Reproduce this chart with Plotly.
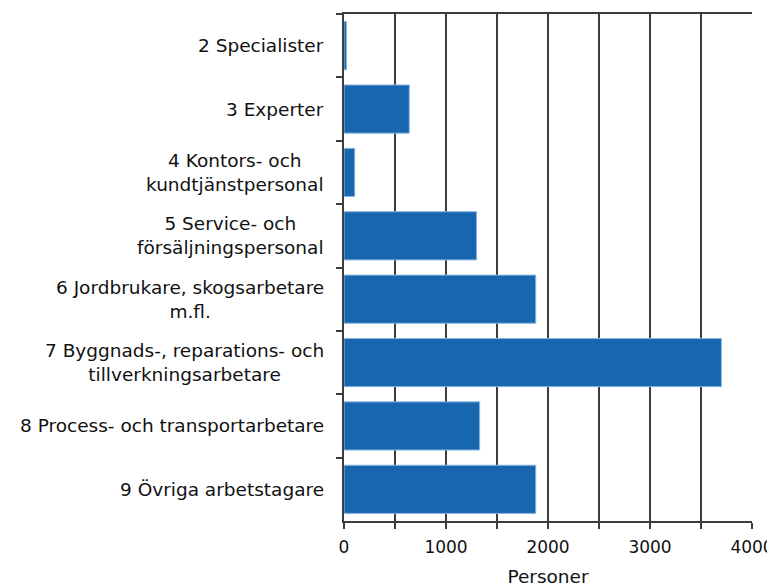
import plotly.graph_objects as go

categories = [
    "2 Specialister",
    "3 Experter",
    "4 Kontors- och<br>kundtjänstpersonal",
    "5 Service- och<br>försäljningspersonal",
    "6 Jordbrukare, skogsarbetare<br>m.fl.",
    "7 Byggnads-, reparations- och<br>tillverkningsarbetare",
    "8 Process- och transportarbetare",
    "9 Övriga arbetstagare",
]
values = [25, 640, 105, 1300, 1880, 3700, 1330, 1880]
x_ticks = [0, 1000, 2000, 3000, 4000]

FONT = "DejaVu Sans"
LINE = "#3c3c3c"
fig = go.Figure(go.Bar(
    x=values, y=categories, orientation="h",
    marker=dict(color="#1866ad", line=dict(color="#8ab8e3", width=1)),
    width=0.76,
))

for c in categories:
    fig.add_annotation(x=0, xref="paper", y=c, yref="y", text=c, showarrow=False,
                       xanchor="right", align="center", xshift=-18,
                       font=dict(family=FONT, size=18.5, color="#111"))

# page body has an 8px margin, so the figure is sized/offset to compensate
fig.update_layout(
    width=767, height=579,
    margin=dict(l=336, r=23, t=6, b=66),
    paper_bgcolor="white", plot_bgcolor="white",
    showlegend=False,
    font=dict(family=FONT, size=17, color="#111"),
    xaxis=dict(
        range=[0, 4000], tickvals=x_ticks, ticktext=[str(v) for v in x_ticks],
        showgrid=True, gridcolor=LINE, gridwidth=1.5,
        showline=True, linecolor=LINE, linewidth=1.5, mirror=True,
        ticks="outside", ticklen=6, tickcolor=LINE, tickwidth=1.5,
        minor=dict(dtick=500, tick0=0, showgrid=True, gridcolor=LINE, gridwidth=1.5,
                   ticks="outside", ticklen=6, tickcolor=LINE),
        tickfont=dict(size=17), ticklabelstandoff=4,
        title=dict(text="Personer", standoff=20, font=dict(size=18.5)),
        zeroline=False, automargin=False,
    ),
    yaxis=dict(
        autorange="reversed", showticklabels=False,
        showline=True, linecolor=LINE, linewidth=1.5,
        ticks="outside", ticklen=6, tickcolor=LINE, tickwidth=1.5,
        tickson="boundaries", showgrid=False, automargin=False,
    ),
)

fig.write_html("out.html")
